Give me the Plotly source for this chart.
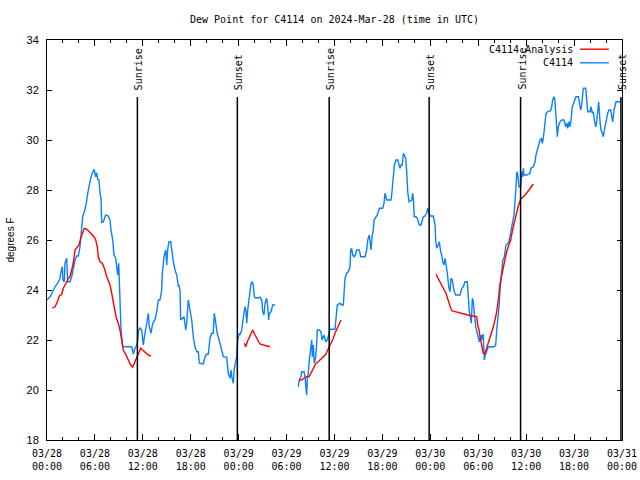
import pandas as pd
import plotly.graph_objects as go

# ---------------- data (hours since 2024-03-28 00:00 UTC, degrees F) ----------------
station_hours = [
    0.0, 0.38, 0.71, 1.0, 1.34, 1.63, 1.75, 1.92, 2.0, 2.17,
    2.25, 2.47, 2.59, 2.88, 3.09, 3.29, 3.51, 3.72, 3.92, 4.13,
    4.35, 4.47, 4.67, 4.88, 5.10, 5.30, 5.47, 5.67, 5.89, 6.10,
    6.22, 6.35, 6.51, 6.64, 6.76, 6.85, 7.05, 7.35, 7.68, 7.89,
    8.01, 8.23, 8.39, 8.60, 8.73, 8.85, 8.98, 9.05, 9.14, 9.27,
    9.48, 10.61, 10.81, 10.93, 11.14, 11.31, 11.48, 11.65, 11.86, 12.06,
    12.18, 12.40, 12.56, 12.69, 12.81, 13.02, 13.24, 13.52, 13.74, 13.94,
    14.15, 14.36, 14.44, 14.65, 14.86, 14.99, 15.11, 15.28, 15.49, 15.61,
    15.82, 16.03, 16.24, 16.37, 16.44, 16.53, 16.65, 16.74, 16.94, 17.16,
    17.37, 17.49, 17.69, 17.91, 18.12, 18.32, 18.53, 18.75, 18.95, 19.07,
    19.57, 19.78, 20.00, 20.20, 20.41, 20.62, 20.82, 20.95, 21.12, 21.32,
    21.66, 21.88, 22.08, 22.50, 22.70, 22.92, 23.04, 23.17, 23.33, 23.42,
    23.63, 23.75, 23.88, 23.95, 24.08, 24.17, 24.38, 24.51, 24.67, 24.79,
    24.92, 25.01, 25.13, 25.30, 25.42, 25.55, 25.71, 25.83, 25.96, 26.17,
    26.67, 26.89, 27.01, 27.17, 27.30, 27.51, 27.64, 27.76, 27.84, 28.05,
    28.26, 28.55,
    31.47, 31.59, 31.81, 31.89, 32.18, 32.31, 32.43, 32.52, 32.60, 32.72,
    32.85, 33.02, 33.15, 33.22, 33.35, 33.47, 33.65, 33.77, 33.85, 34.10,
    34.31, 34.44, 34.69, 34.90, 35.10, 35.27, 35.44, 36.06, 36.28, 36.35,
    36.69, 36.90, 37.10, 37.19, 37.32, 37.53, 37.73, 37.94, 38.03, 38.15,
    38.28, 38.44, 38.61, 38.78, 39.11, 39.28, 39.82, 40.03, 40.16, 40.36,
    40.45, 40.57, 40.70, 40.86, 40.95, 41.16, 41.36, 41.61, 42.04, 42.20,
    42.32, 42.54, 43.08, 43.20, 43.36, 43.49, 43.70, 43.91, 44.08, 44.20,
    44.33, 44.49, 44.62, 44.74, 44.92, 45.04, 45.17, 45.33, 45.67, 45.80,
    45.87, 45.99, 46.21, 46.37, 46.49, 46.62, 46.83, 47.00, 47.12, 47.33,
    47.55, 47.67, 47.83, 47.96, 48.37, 48.59, 48.67, 48.80, 49.00, 49.12,
    49.30, 49.42, 49.55, 49.71, 49.84, 49.96, 50.13, 50.30, 50.46, 50.59,
    50.75, 50.88, 51.00, 51.18, 51.72, 51.93, 52.13, 52.34, 52.63, 52.76,
    52.88, 53.06, 53.13, 53.26, 53.38, 53.51, 53.68, 53.88, 54.01, 54.13,
    54.35, 54.43, 54.56, 54.63, 54.72, 54.76, 54.88, 55.06, 55.26, 55.97,
    56.19, 56.31, 56.44, 56.60, 56.73, 56.94, 57.07, 57.23, 57.36, 57.48,
    57.77, 57.89, 58.23, 58.48, 58.73, 58.82, 58.95, 59.11, 59.32, 59.44,
    59.57, 59.65, 59.73, 60.07, 60.48, 60.61, 60.90, 61.11, 61.23, 61.40,
    61.61, 61.73, 61.90, 62.02, 62.15, 62.27, 62.36, 62.49, 62.65, 63.07,
    63.20, 63.32, 63.49, 63.61, 63.74, 63.90, 64.03, 64.24, 64.45, 64.74,
    64.95, 65.08, 65.20, 65.37, 65.49, 65.62, 65.78, 65.99, 66.24, 66.53,
    66.66, 66.83, 66.95, 67.08, 67.16, 67.46, 67.58, 67.71, 68.00, 68.12,
    68.28, 68.41, 68.53, 68.71, 68.83, 68.96, 69.08, 69.25, 69.37, 69.54,
    69.66, 69.79, 69.96, 70.09, 70.21, 70.37, 70.59, 70.71, 70.84, 71.00,
    71.13, 71.25, 71.81,
]
station_dewpoint = [
    23.6, 23.73, 23.93, 24.13, 24.27, 24.47, 24.73, 24.93, 24.4, 24.33,
    25.07, 25.27, 24.33, 24.33, 24.53, 24.93, 25.2, 25.36, 25.36, 25.73,
    26.53, 26.93, 27.13, 27.4, 27.87, 28.27, 28.47, 28.67, 28.83, 28.53,
    28.69, 28.43, 28.4, 27.87, 27.67, 26.69, 26.73, 27.0, 26.96, 26.8,
    26.4, 26.0, 25.4, 25.27, 25.0, 24.6, 25.07, 24.27, 23.08, 22.4,
    21.73, 21.73, 21.44, 21.6, 21.73, 21.88, 22.4, 22.48, 22.4, 21.8,
    22.08, 22.53, 22.67, 23.07, 22.53, 22.27, 22.67, 22.8, 23.13, 23.6,
    23.6, 24.0, 24.68, 25.33, 25.6, 25.0, 25.63, 25.93, 25.93, 25.6,
    25.13, 24.8, 24.6, 24.33, 24.13, 24.2, 24.0, 22.8, 22.88, 22.93,
    22.4, 22.67, 23.6, 23.2, 22.8, 22.13, 21.73, 21.53, 21.53, 21.07,
    21.04, 21.33, 21.44, 21.44, 22.07, 22.27, 22.27, 23.07, 22.67, 22.27,
    21.87, 21.6, 21.33, 21.31, 20.67, 20.47, 20.8, 20.47, 20.27, 20.8,
    21.2, 21.33, 22.0, 22.13, 22.27, 22.2, 22.4, 22.73, 23.07, 23.33,
    23.13, 22.67, 23.2, 23.67, 24.0, 24.27, 24.33, 24.2, 23.73, 23.67,
    23.71, 23.6, 23.13, 23.0, 23.47, 23.67, 23.33, 22.8, 23.07, 23.13,
    23.4, 23.4,
    20.13, 20.4, 20.53, 20.73, 20.73, 20.53, 20.07, 19.8, 20.47, 20.67,
    21.2, 21.73, 22.0, 21.33, 21.8, 21.07, 21.33, 21.87, 22.4, 22.4,
    22.33, 22.0, 22.2, 21.93, 22.0, 22.2, 22.43, 22.43, 23.13, 23.4,
    23.47, 23.4, 23.4, 24.0, 24.47, 24.67, 24.73, 24.93, 25.6, 25.67,
    25.4, 25.33, 25.4, 25.6, 25.6, 25.33, 25.33, 25.6, 26.0, 26.2,
    25.87, 25.6, 26.13, 26.4, 26.8, 26.93, 27.0, 27.27, 27.27, 27.47,
    27.87, 27.6, 27.6, 27.93, 28.6, 29.0, 29.2, 29.2, 29.0, 28.87,
    29.0, 29.0, 29.47, 29.4, 29.27, 28.73, 27.93, 27.53, 27.6, 27.87,
    27.67, 26.93, 26.93, 26.87, 26.73, 26.6, 26.6, 26.8, 26.93, 26.96,
    27.09, 27.27, 27.13, 26.96, 26.96, 26.6, 26.0, 25.67, 25.8, 25.93,
    25.53, 25.4, 25.13, 25.0, 25.27, 25.07, 24.67, 24.13, 23.93, 24.47,
    24.4, 24.13, 23.93, 23.8, 23.8, 24.07, 24.13, 24.33, 24.33, 23.67,
    23.13, 22.8, 22.67, 23.67, 23.53, 23.07, 22.53, 22.27, 22.13, 21.93,
    22.2, 22.0, 22.2, 22.2, 21.47, 21.2, 21.4, 21.6, 21.73, 21.73,
    21.8, 22.4, 22.8, 23.33, 24.0, 24.67, 25.2, 25.27, 25.6, 25.8,
    25.88, 26.0, 26.6, 27.0, 28.13, 28.73, 28.6, 28.13, 28.13, 28.73,
    28.53, 28.87, 28.6, 28.6, 28.67, 28.87, 28.93, 29.13, 29.4, 29.6,
    29.8, 30.0, 30.07, 29.87, 30.07, 30.53, 30.8, 31.07, 31.13, 31.17,
    31.33, 31.6, 31.73, 31.53, 30.93, 30.13, 30.53, 30.73, 30.8, 30.8,
    30.53, 30.67, 30.47, 30.73, 30.53, 30.8, 31.33, 31.53, 31.73, 31.73,
    31.47, 31.2, 31.4, 31.8, 32.07, 32.07, 31.6, 31.13, 31.13, 31.33,
    31.07, 31.13, 30.8, 30.53, 30.73, 31.13, 31.53, 30.73, 30.4, 30.27,
    30.13, 30.4, 30.67, 30.93, 31.07, 31.2, 31.2, 30.93, 30.73, 31.2,
    31.47, 31.53, 31.53,
]

analysis_hours = [
    0.66, 1.0, 1.29, 1.54, 1.84, 2.04, 2.38, 2.67, 2.88, 3.09,
    3.29, 3.51, 3.72, 4.01, 4.22, 4.42, 4.67, 4.97, 5.30, 5.60,
    5.89, 6.10, 6.30, 6.42, 6.64, 6.92, 7.18, 7.48, 7.68, 7.89,
    8.10, 8.23, 8.39, 8.64, 8.93, 9.14, 9.35, 9.55, 9.89, 10.18,
    10.48, 10.73, 10.93, 11.23, 11.43, 11.73, 12.06, 12.48, 12.81, 13.02,
    24.71, 24.88, 25.08, 25.42, 25.76, 26.05, 26.34, 26.67, 27.09, 27.51,
    27.92,
    31.56, 31.89, 32.18, 32.52, 32.81, 33.15, 33.43, 33.68, 33.97, 34.27,
    34.60, 34.90, 35.15, 35.35, 35.56, 35.85, 36.06, 36.35, 36.60, 36.81,
    48.71, 49.00, 49.30, 49.62, 49.96, 50.25, 50.55, 50.75, 51.09, 51.50,
    51.93, 52.34, 52.76, 53.18, 53.47, 53.81, 53.93, 54.10, 54.22, 54.35,
    54.51, 54.63, 54.85, 55.06, 55.26, 55.47, 55.68, 55.89, 56.10, 56.31,
    56.51, 56.73, 56.94, 57.14, 57.35, 57.56, 57.76, 58.06, 58.35, 58.73,
    58.98, 59.32, 59.86, 60.36, 60.90,
]
analysis_dewpoint = [
    23.27, 23.33, 23.53, 23.76, 23.83, 24.07, 24.27, 24.47, 24.53, 24.8,
    25.07, 25.6, 25.67, 25.8, 26.07, 26.27, 26.47, 26.44, 26.33, 26.2,
    26.13, 26.0, 25.73, 25.33, 25.13, 25.07, 24.87, 24.53, 24.33, 24.2,
    23.87, 23.6, 23.4, 22.93, 22.67, 22.4, 22.0, 21.6, 21.4, 21.2,
    21.0, 20.91, 21.07, 21.33, 21.49, 21.67, 21.57, 21.44, 21.37, 21.37,
    21.87, 21.73, 21.93, 22.2, 22.4, 22.2, 22.0, 21.84, 21.8, 21.76,
    21.73,
    20.4, 20.4, 20.47, 20.53, 20.53, 20.73, 20.93, 21.07, 21.13, 21.23,
    21.33, 21.43, 21.6, 21.73, 21.87, 22.07, 22.27, 22.47, 22.67, 22.8,
    24.63, 24.47, 24.27, 24.07, 23.87, 23.53, 23.27, 23.16, 23.13, 23.09,
    23.07, 23.04, 23.0, 22.96, 22.96, 22.93, 22.6, 22.4, 22.13, 21.93,
    21.73, 21.47, 21.47, 21.67, 21.87, 22.13, 22.33, 22.53, 22.8, 23.13,
    23.6, 24.27, 24.6, 24.93, 25.27, 25.53, 25.73, 26.0, 26.48, 27.0,
    27.32, 27.63, 27.8, 28.0, 28.24,
]

sunrise_times = ["2024-03-28 11:19", "2024-03-29 11:20", "2024-03-30 11:18"]
sunset_times = ["2024-03-28 23:50", "2024-03-29 23:51", "2024-03-30 23:52"]

x_tick_times = [f"2024-03-{d:02d} {h:02d}:00" for d in (28, 29, 30) for h in (0, 6, 12, 18)] + ["2024-03-31 00:00"]
x_tick_text = [f"{t[5:7]}/{t[8:10]}<br>{t[11:16]}" for t in x_tick_times]
y_ticks = [18, 20, 22, 24, 26, 28, 30, 32, 34]

title_text = "Dew Point for C4114 on 2024-Mar-28 (time in UTC)"
station_name = "C4114"
analysis_name = "C4114 Analysis"

# ---------------- build ----------------
start = pd.Timestamp("2024-03-28 00:00")
end = pd.Timestamp("2024-03-31 00:00")


def to_xy(hours, vals, gap=2.0):
    xs, ys, prev = [], [], None
    for h, v in zip(hours, vals):
        if prev is not None and h - prev > gap:
            xs.append(None)
            ys.append(None)
        xs.append(start + pd.Timedelta(hours=h))
        ys.append(v)
        prev = h
    return xs, ys


BLUE = "#0a80ff"
RED = "#ff0000"
MONO = "DejaVu Sans Mono"

fig = go.Figure()
bx, by = to_xy(station_hours, station_dewpoint)
rx, ry = to_xy(analysis_hours, analysis_dewpoint)
fig.add_trace(go.Scatter(x=bx, y=by, mode="lines", name=station_name,
                         line=dict(color=BLUE, width=1.4), connectgaps=False))
fig.add_trace(go.Scatter(x=rx, y=ry, mode="lines", name=analysis_name,
                         line=dict(color=RED, width=1.4), connectgaps=False))

shapes = []
annotations = []
for label, times in (("Sunrise", sunrise_times), ("Sunset", sunset_times)):
    for t in times:
        shapes.append(dict(type="line", xref="x", yref="y", x0=t, x1=t, y0=18, y1=31.72,
                           line=dict(color="black", width=1.5)))
        annotations.append(dict(text=label, x=t, xref="x", y=0.87, yref="paper",
                                xanchor="center", yanchor="bottom", textangle=-90,
                                showarrow=False, xshift=1,
                                font=dict(family=MONO, size=10, color="black")))

# manual legend (text then line sample, like the original)
for i, (name, color) in enumerate(((analysis_name, RED), (station_name, BLUE))):
    ypos = 0.977 - i * 0.034
    annotations.append(dict(text=name, x=0.918, xref="paper", y=ypos, yref="paper",
                            xanchor="right", yanchor="middle", showarrow=False,
                            font=dict(family=MONO, size=10, color="black")))
    shapes.append(dict(type="line", xref="paper", yref="paper", x0=0.927, x1=0.977,
                       y0=ypos, y1=ypos, line=dict(color=color, width=1.4)))

fig.update_layout(
    width=640, height=480,
    margin=dict(l=47, r=18, t=40, b=40, autoexpand=False),
    paper_bgcolor="white", plot_bgcolor="white",
    showlegend=False,
    font=dict(family=MONO, size=10, color="black"),
    title=dict(text=title_text, x=0.5, xref="paper", xanchor="center",
               y=1 - 19 / 480, yref="container", yanchor="middle",
               font=dict(family=MONO, size=10, color="black")),
    shapes=shapes, annotations=annotations,
)
fig.update_xaxes(
    type="date", range=[start, end],
    tickmode="array", tickvals=x_tick_times, ticktext=x_tick_text,
    ticks="inside", ticklen=6, tickwidth=1, tickcolor="black",
    showline=True, linecolor="black", linewidth=1, mirror="ticks",
    showgrid=False, zeroline=False, ticklabelstandoff=4,
    tickfont=dict(family=MONO, size=10, color="black"),
    minor=dict(tickmode="array",
               tickvals=[start + pd.Timedelta(hours=h) for h in range(2, 72, 2)],
               ticks="inside", ticklen=3, tickcolor="black", showgrid=False),
)
fig.update_yaxes(
    range=[18, 34], tickmode="array", tickvals=y_ticks,
    ticks="inside", ticklen=5, tickwidth=1, tickcolor="black",
    showline=True, linecolor="black", linewidth=1, mirror="ticks",
    showgrid=False, zeroline=False, ticklabelstandoff=5,
    tickfont=dict(family="Liberation Sans", size=11, color="black"),
    title=dict(text="degrees F", standoff=10,
               font=dict(family="Liberation Sans", size=10, color="black")),
)

fig.write_html("out.html", config={"displayModeBar": False},
               post_script="document.body.style.margin='0';")
